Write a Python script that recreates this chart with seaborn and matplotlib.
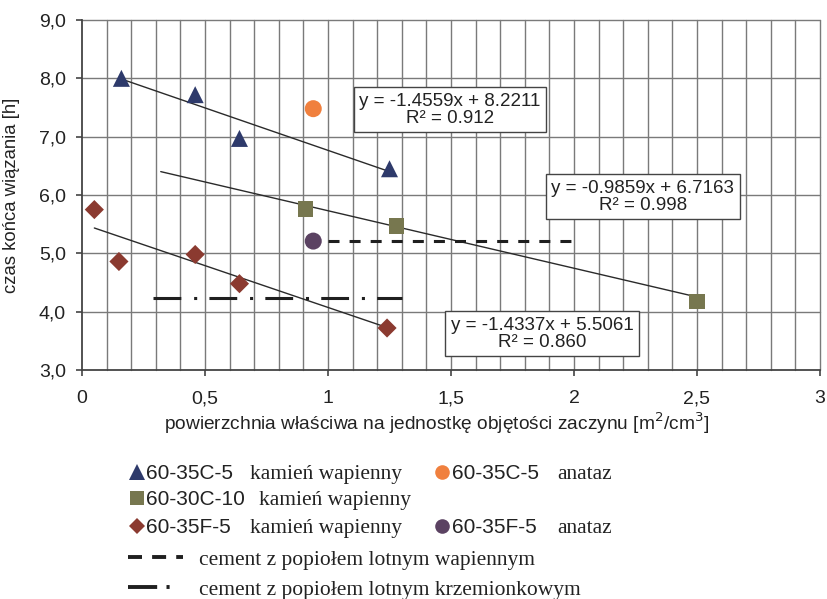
import numpy as np
import pandas as pd
import matplotlib
matplotlib.use("Agg")
import matplotlib.pyplot as plt
from matplotlib.lines import Line2D
import seaborn as sns

# ---- data ----
tri_x = [0.16, 0.46, 0.64, 1.25]
tri_y = [8.00, 7.72, 6.97, 6.45]
sq_x = [0.91, 1.28, 2.50]
sq_y = [5.76, 5.47, 4.17]
dia_x = [0.05, 0.15, 0.46, 0.64, 1.24]
dia_y = [5.75, 4.86, 4.98, 4.48, 3.72]
orange_x = [0.94]
orange_y = [7.48]
purple_x = [0.94]
purple_y = [5.21]

# trend lines: slope, intercept, x-range, R2
tri_fit = (-1.4559, 8.2211, 0.16, 1.25, 0.912)
sq_fit = (-0.9859, 6.7163, 0.32, 2.50, 0.998)
dia_fit = (-1.4337, 5.5061, 0.05, 1.25, 0.860)

# reference cement lines
lime_ref_x = [1.00, 2.01]
lime_ref_y = [5.21, 5.21]
sil_ref_x = [0.29, 1.30]
sil_ref_y = [4.23, 4.23]

xticks = [0, 0.5, 1, 1.5, 2, 2.5, 3]
xticklabels = ["0", "0,5", "1", "1,5", "2", "2,5", "3"]
yticks = [3, 4, 5, 6, 7, 8, 9]
yticklabels = ["3,0", "4,0", "5,0", "6,0", "7,0", "8,0", "9,0"]

C_TRI = "#2E3A6B"
C_SQ = "#77774F"
C_DIA = "#8B3A30"
C_OR = "#F0803E"
C_PU = "#5B4262"
TXT = "#222222"

DASHED = (0, (3.6, 3.3))
DASHDOT = (0, (9.1, 4.2, 1.0, 4.0))

sns.set_theme(style="white")
SANS = ["Liberation Sans", "DejaVu Sans"]
SERIF = ["Liberation Serif", "DejaVu Serif"]
plt.rcParams["font.family"] = SANS

fig = plt.figure(figsize=(8.27, 5.99), dpi=100)
ax = fig.add_axes([0.0992, 0.3823, 0.8923, 0.5843])

# grid
for gx in np.arange(0.1, 3.0001, 0.1):
    ax.axvline(gx, color="#7a7a7a", lw=1.0, zorder=0, clip_on=False)
for gy in yticks[1:]:
    ax.axhline(gy, color="#7a7a7a", lw=1.0, zorder=0, clip_on=False)

# trend lines
for s, b, x0, x1, r2 in [tri_fit, sq_fit, dia_fit]:
    xs = np.array([x0, x1])
    d = pd.DataFrame({"x": xs, "y": s * xs + b})
    sns.lineplot(data=d, x="x", y="y", ax=ax, color="#2a2a2a", lw=1.0, zorder=2)

# reference lines
sns.lineplot(x=lime_ref_x, y=lime_ref_y, ax=ax, color="#1f1f1f", lw=2.2,
             linestyle=DASHED, zorder=2)
sns.lineplot(x=sil_ref_x, y=sil_ref_y, ax=ax, color="#1f1f1f", lw=2.2,
             linestyle=DASHDOT, zorder=2)

# points
sns.scatterplot(x=tri_x, y=tri_y, ax=ax, marker="^", s=150, color=C_TRI, edgecolor="none", zorder=3)
sns.scatterplot(x=sq_x, y=sq_y, ax=ax, marker="s", s=120, color=C_SQ, edgecolor="none", zorder=3)
sns.scatterplot(x=dia_x, y=dia_y, ax=ax, marker="D", s=95, color=C_DIA, edgecolor="none", zorder=3)
sns.scatterplot(x=orange_x, y=orange_y, ax=ax, marker="o", s=150, color=C_OR, edgecolor="none", zorder=3)
sns.scatterplot(x=purple_x, y=purple_y, ax=ax, marker="o", s=150, color=C_PU, edgecolor="none", zorder=3)

# equation boxes
boxes = [(tri_fit, 1.496, 7.46), (sq_fit, 2.28, 5.97), (dia_fit, 1.87, 3.62)]
for (s, b, x0, x1, r2), bx, by in boxes:
    ax.text(bx, by, f"y = {s:.4f}x + {b:.4f}\nR² = {r2:.3f}", ha="center", va="center",
            fontsize=13.5, linespacing=1.0, color=TXT, zorder=5,
            bbox=dict(boxstyle="square,pad=0.3", fc="white", ec="#444444", lw=1.0))

ax.set_xlim(0, 3)
ax.set_ylim(3, 9)
ax.set_xticks(xticks)
ax.set_xticklabels(xticklabels, fontsize=14, color=TXT)
ax.set_yticks(yticks)
ax.set_yticklabels(yticklabels, fontsize=14, color=TXT)
ax.tick_params(axis="both", direction="out", length=4.5, width=1.2, color="#444444",
               bottom=True, left=True)
ax.tick_params(axis="x", pad=10)
ax.tick_params(axis="y", pad=7)
for sp in ["top", "right"]:
    ax.spines[sp].set_visible(False)
for sp in ["left", "bottom"]:
    ax.spines[sp].set_color("#444444")
    ax.spines[sp].set_linewidth(1.3)
ax.set_xlabel("powierzchnia właściwa na jednostkę objętości zaczynu [m$^2$/cm$^3$]",
              fontsize=13.8, color=TXT)
ax.xaxis.set_label_coords(0.481, -0.115)
ax.set_ylabel("czas końca wiązania [h]", fontsize=13.3, color=TXT)
ax.yaxis.set_label_coords(-0.084, 0.5)

# ---- custom legend (figure coordinates in pixels) ----
W, H = 827.0, 599.0
def fx(px):
    return px / W
def fy(py):
    return 1 - py / H

def mk(px, py, marker, color, size):
    fig.add_artist(Line2D([fx(px)], [fy(py)], marker=marker, color=color, markersize=size,
                          markeredgewidth=0, linestyle="none", transform=fig.transFigure))

rows = [
    (479, "^", C_TRI, 11, "60-35C-5", "kamień wapienny", 250),
    (505, "s", C_SQ, 10, "60-30C-10", "kamień wapienny", 259),
    (533, "D", C_DIA, 8, "60-35F-5", "kamień wapienny", 250),
]
for base, m, c, sz, code, desc, dx in rows:
    mk(137, base - 7, m, c, sz)
    fig.text(fx(146), fy(base), code, fontsize=15, va="baseline", ha="left", color=TXT, family=SANS)
    fig.text(fx(dx), fy(base), desc, fontsize=15.5, va="baseline", ha="left", color=TXT, family=SERIF)

for base, c, code in [(479, C_OR, "60-35C-5"), (533, C_PU, "60-35F-5")]:
    mk(442, base - 7, "o", c, 10.5)
    fig.text(fx(452), fy(base), code, fontsize=15, va="baseline", ha="left", color=TXT, family=SANS)
    fig.text(fx(557), fy(base), "anataz", fontsize=15.5, va="baseline", ha="left", color=TXT, family=SERIF)

fig.add_artist(Line2D([fx(128), fx(183)], [fy(557), fy(557)], color="#1f1f1f", lw=2.8,
                      linestyle=(0, (3.6, 2.6)), transform=fig.transFigure))
fig.text(fx(199), fy(565), "cement z popiołem lotnym wapiennym", fontsize=15.5, va="baseline",
         ha="left", color=TXT, family=SERIF)
fig.add_artist(Line2D([fx(128), fx(171)], [fy(587), fy(587)], color="#1f1f1f", lw=2.8,
                      linestyle=(0, (7.5, 2.4, 0.8, 10)), transform=fig.transFigure))
fig.text(fx(199), fy(595), "cement z popiołem lotnym krzemionkowym", fontsize=15.5, va="baseline",
         ha="left", color=TXT, family=SERIF)

fig.savefig("out.png", dpi=100, facecolor="white")
